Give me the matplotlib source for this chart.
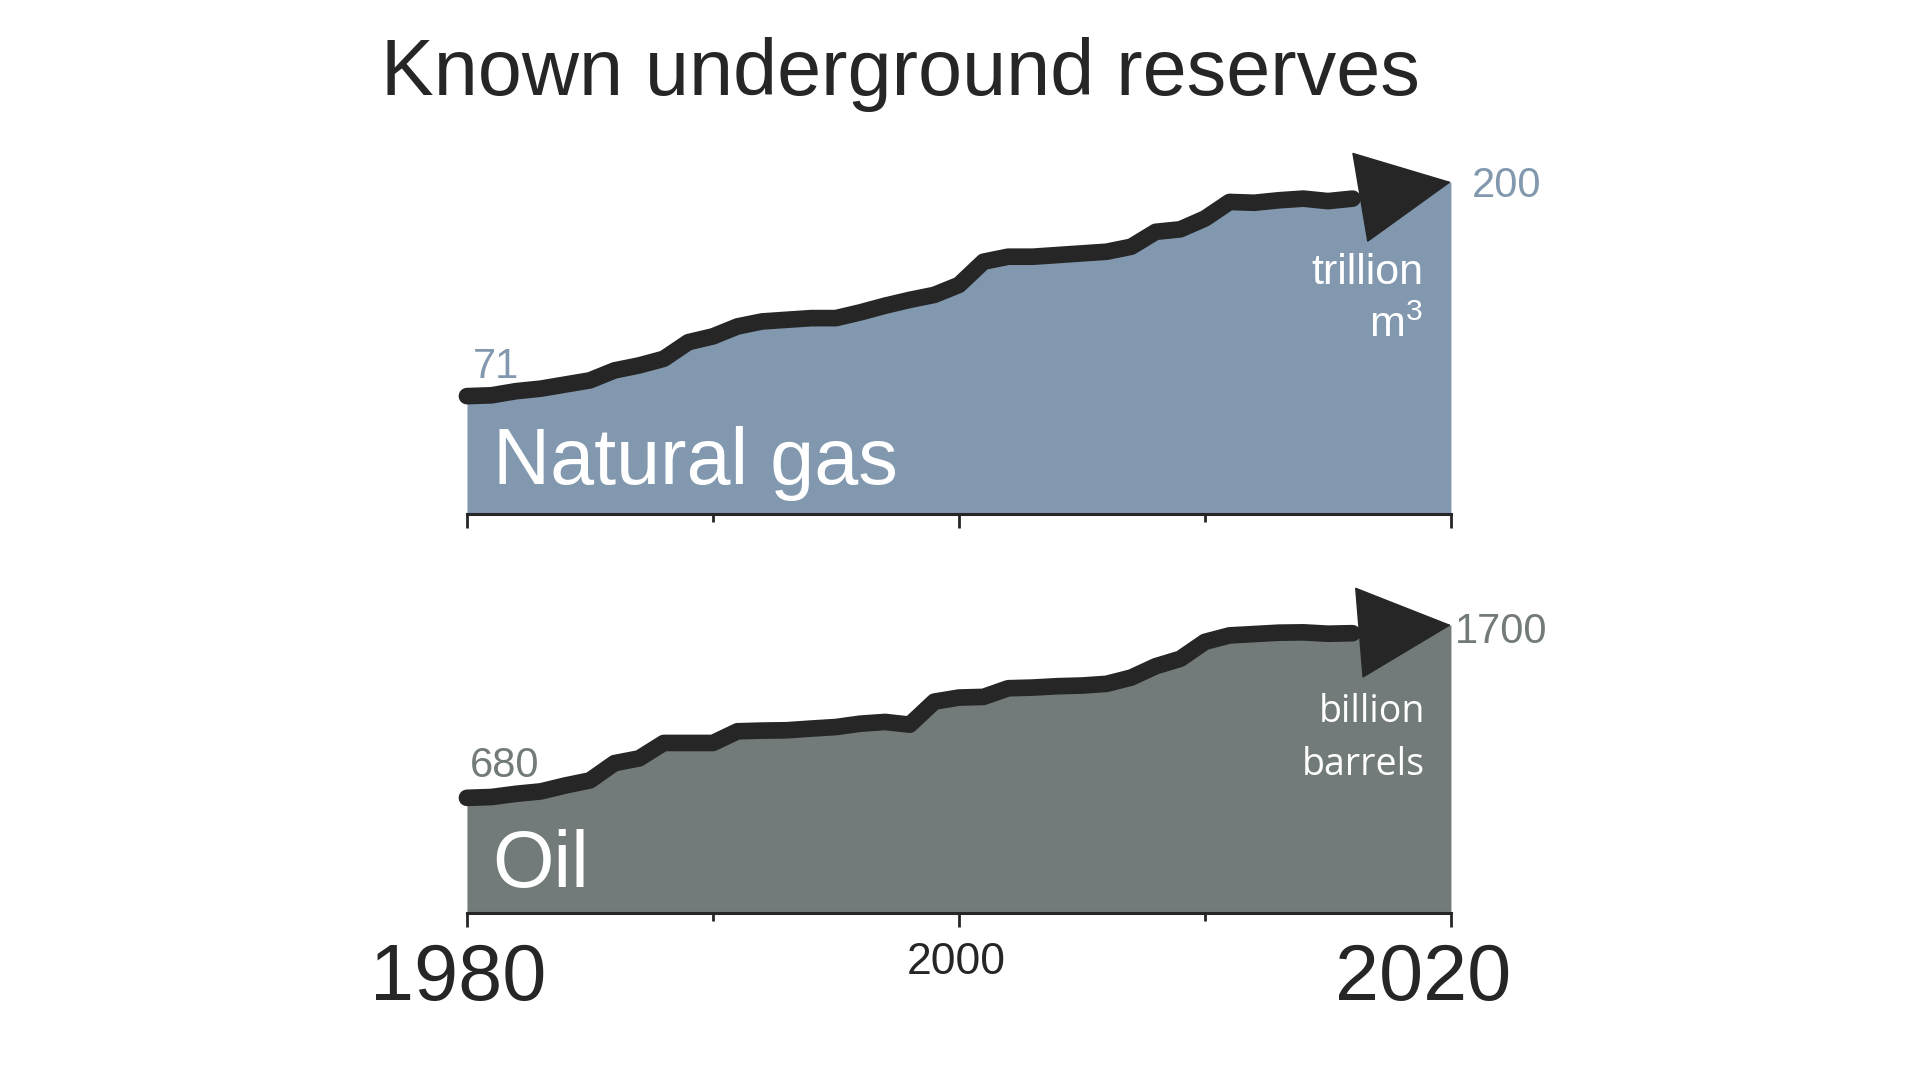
import matplotlib
matplotlib.use("Agg")
import matplotlib.pyplot as plt
from matplotlib.transforms import ScaledTranslation

plt.rcParams['font.family'] = ['Liberation Sans', 'DejaVu Sans']
plt.rcParams['mathtext.fontset'] = 'custom'
plt.rcParams['mathtext.rm'] = 'Liberation Sans'

# yearly values drawn as the line, the last point is the arrow tip
years = list(range(1980, 2017))
end_year = 2020

gas = [71, 71.5, 74, 75.5, 78, 80.5, 86.5, 89.5, 93.5, 103.5,
       107, 113, 116, 117, 118, 118, 121.5, 125.5, 129, 132,
       138, 152, 155, 155, 156, 157, 158, 161, 170, 171.5,
       178, 188, 187.5, 189, 190, 188.5, 190]
gas_end = 200

oil = [680, 685, 704, 718, 753, 783, 885, 913, 1004, 1004,
       1004, 1073, 1077, 1079, 1089, 1098, 1118, 1128, 1112, 1248,
       1272, 1276, 1327, 1331, 1339, 1343, 1353, 1390, 1457, 1501,
       1601, 1639, 1647, 1655, 1657, 1649, 1652]
oil_end = 1700

major_years = [1980, 2000, 2020]
minor_years = [1990, 2010]
year_labels = ['1980', '2000', '2020']
year_label_sizes = [57, 32, 57]
year_label_shift = [-6, -2, -20]  # points

GAS_COLOR = '#8298af'
OIL_COLOR = '#727b79'
INK = '#262626'


def draw_panel(ax, values, end_value, color, ymax, name, start_off, end_off):
    xs = years + [end_year]
    ys = values + [end_value]
    ax.fill_between(xs, ys, 0, color=color, lw=0, zorder=1)
    ax.plot(years, values, color=INK, lw=12, solid_capstyle='round',
            solid_joinstyle='round', zorder=3, clip_on=False)
    ax.annotate('', xy=(end_year, end_value), xytext=(years[-1], values[-1]),
                arrowprops=dict(arrowstyle='-|>,head_length=6.5,head_width=3.2',
                                mutation_scale=10, fc=INK, ec=INK, lw=1,
                                shrinkA=0, shrinkB=0),
                annotation_clip=False, zorder=4)
    ax.annotate(f"{values[0]:g}", xy=(years[0], values[0]), xytext=start_off,
                textcoords='offset points', fontsize=30, color=color,
                ha='left', va='baseline')
    ax.annotate(f"{end_value:g}", xy=(end_year, end_value), xytext=end_off,
                textcoords='offset points', fontsize=30, color=color,
                ha='left', va='baseline', annotation_clip=False)
    ax.text(0.026, 0.082, name, transform=ax.transAxes, fontsize=57,
            color='white', ha='left', va='baseline', zorder=5)

    ax.set_xlim(1980, 2020)
    ax.set_ylim(0, ymax)
    for s in ['top', 'left', 'right']:
        ax.spines[s].set_visible(False)
    ax.spines['bottom'].set_color(INK)
    ax.spines['bottom'].set_linewidth(2.2)
    ax.spines['bottom'].set_zorder(2)
    ax.set_yticks([])
    ax.set_xticks(major_years)
    ax.set_xticks(minor_years, minor=True)
    ax.tick_params(axis='x', which='major', length=10, width=2, color=INK, pad=11)
    ax.tick_params(axis='x', which='minor', length=6, width=2, color=INK)
    ax.patch.set_visible(False)


fig = plt.figure(figsize=(19.2, 10.8), dpi=100)

ax_gas = fig.add_axes([0.2432, 0.5241, 0.5125, 0.3381])
draw_panel(ax_gas, gas, gas_end, GAS_COLOR, 220, 'Natural gas', (4, 13), (15, -11))
ax_gas.set_xticklabels([])
ax_gas.text(0.9715, 0.630, 'trillion', transform=ax_gas.transAxes, fontsize=31,
            color='white', ha='right', va='baseline', zorder=5)
ax_gas.text(0.9715, 0.485, r'm$^{\mathrm{3}}$', transform=ax_gas.transAxes, fontsize=31,
            color='white', ha='right', va='baseline', zorder=5)

ax_oil = fig.add_axes([0.2432, 0.1546, 0.5125, 0.2933])
draw_panel(ax_oil, oil, oil_end, OIL_COLOR, 1870, 'Oil', (2, 15), (3, -13))
ax_oil.set_xticklabels(year_labels)
for lab, size, dx in zip(ax_oil.get_xticklabels(), year_label_sizes, year_label_shift):
    lab.set_fontsize(size)
    lab.set_color(INK)
    lab.set_transform(lab.get_transform() + ScaledTranslation(dx / 72, 0, fig.dpi_scale_trans))
ax_oil.text(0.9736, 0.603, 'billion', transform=ax_oil.transAxes, fontsize=27,
            family='Open Sans', color='white', ha='right', va='baseline', zorder=5)
ax_oil.text(0.9736, 0.4356, 'barrels', transform=ax_oil.transAxes, fontsize=27,
            family='Open Sans', color='white', ha='right', va='baseline', zorder=5)

fig.text(0.469, 0.912, 'Known underground reserves', fontsize=57, color=INK,
         ha='center', va='baseline')

fig.savefig('out.png', dpi=100, facecolor='white')
